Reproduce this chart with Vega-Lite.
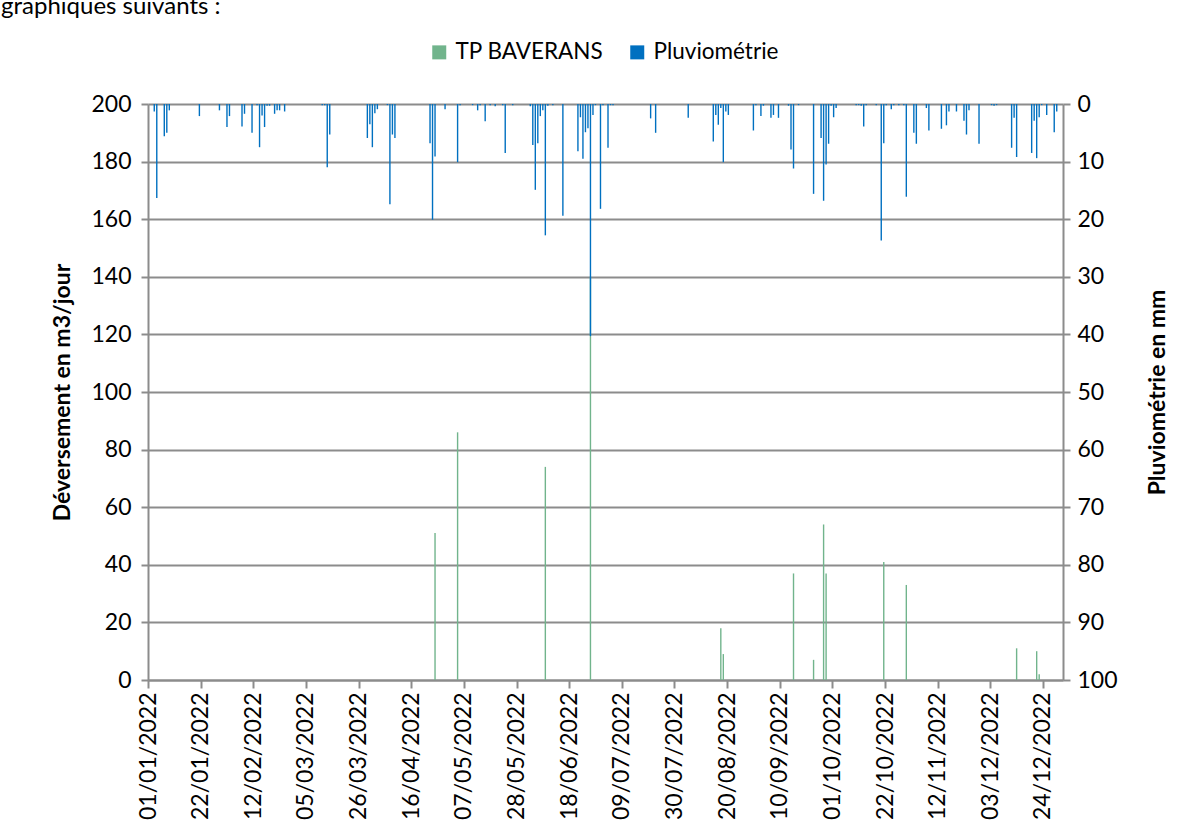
{
  "$schema": "https://vega.github.io/schema/vega-lite/v6.json",
  "width": 915,
  "height": 576,
  "autosize": {"type": "none"},
  "padding": {"left": 148, "top": 104, "right": 129, "bottom": 158},
  "background": "white",
  "title": {"text": "graphiques suivants :", "anchor": "start", "frame": "group", "dx": -147, "offset": 3, "baseline": "alphabetic", "fontSize": 24, "font": "Lato", "fontWeight": "normal", "color": "#000000"},
  "config": {
    "view": {"stroke": null},
    "font": "Lato",
    "axis": {"labelFont": "Lato", "labelFontSize": 23, "labelColor": "#000000", "titleFont": "Lato", "titleFontSize": 23, "titleFontWeight": "bold", "titleColor": "#000000", "domainColor": "#8C8C8C", "domainWidth": 2, "tickColor": "#8C8C8C", "tickWidth": 2, "tickSize": 7, "gridColor": "#8C8C8C", "gridWidth": 2}
  },
  "datasets": {
    "deversement": [
      {"date": "2022-04-25", "value": 51}, {"date": "2022-05-04", "value": 86}, {"date": "2022-06-08", "value": 74}, {"date": "2022-06-26", "value": 140},
      {"date": "2022-08-17", "value": 18}, {"date": "2022-08-18", "value": 9}, {"date": "2022-09-15", "value": 37}, {"date": "2022-09-23", "value": 7},
      {"date": "2022-09-27", "value": 54}, {"date": "2022-09-28", "value": 37}, {"date": "2022-10-21", "value": 41}, {"date": "2022-10-30", "value": 33},
      {"date": "2022-12-13", "value": 11}, {"date": "2022-12-21", "value": 10}, {"date": "2022-12-22", "value": 2}
    ],
    "pluvio": [
      {"date": "2022-01-03", "value": 1.3}, {"date": "2022-01-04", "value": 16.3}, {"date": "2022-01-07", "value": 5.6}, {"date": "2022-01-08", "value": 5.0},
      {"date": "2022-01-09", "value": 1.1}, {"date": "2022-01-21", "value": 2.1}, {"date": "2022-01-29", "value": 1.1}, {"date": "2022-02-01", "value": 4.0},
      {"date": "2022-02-02", "value": 2.1}, {"date": "2022-02-07", "value": 3.9}, {"date": "2022-02-08", "value": 1.7}, {"date": "2022-02-11", "value": 5.0},
      {"date": "2022-02-13", "value": 0.2}, {"date": "2022-02-14", "value": 7.5}, {"date": "2022-02-15", "value": 2.0}, {"date": "2022-02-16", "value": 4.0},
      {"date": "2022-02-17", "value": 0.3}, {"date": "2022-02-18", "value": 0.3}, {"date": "2022-02-20", "value": 1.7}, {"date": "2022-02-21", "value": 1.1},
      {"date": "2022-02-22", "value": 1.1}, {"date": "2022-02-24", "value": 1.3}, {"date": "2022-03-11", "value": 0.2}, {"date": "2022-03-12", "value": 0.2},
      {"date": "2022-03-13", "value": 11.0}, {"date": "2022-03-14", "value": 5.3}, {"date": "2022-03-29", "value": 5.9}, {"date": "2022-03-30", "value": 3.5},
      {"date": "2022-03-31", "value": 7.5}, {"date": "2022-04-01", "value": 1.6}, {"date": "2022-04-02", "value": 0.9}, {"date": "2022-04-06", "value": 0.2},
      {"date": "2022-04-07", "value": 17.4}, {"date": "2022-04-08", "value": 5.3}, {"date": "2022-04-09", "value": 5.9}, {"date": "2022-04-23", "value": 6.8},
      {"date": "2022-04-24", "value": 20.1}, {"date": "2022-04-25", "value": 9.1}, {"date": "2022-04-29", "value": 0.9}, {"date": "2022-05-04", "value": 10.1},
      {"date": "2022-05-05", "value": 0.2}, {"date": "2022-05-10", "value": 0.2}, {"date": "2022-05-12", "value": 1.1}, {"date": "2022-05-13", "value": 0.2},
      {"date": "2022-05-15", "value": 3.0}, {"date": "2022-05-17", "value": 0.2}, {"date": "2022-05-19", "value": 0.4}, {"date": "2022-05-22", "value": 0.2},
      {"date": "2022-05-23", "value": 8.5}, {"date": "2022-05-26", "value": 0.2}, {"date": "2022-06-02", "value": 0.4}, {"date": "2022-06-03", "value": 7.1},
      {"date": "2022-06-04", "value": 14.9}, {"date": "2022-06-05", "value": 6.8}, {"date": "2022-06-06", "value": 2.1}, {"date": "2022-06-07", "value": 1.1},
      {"date": "2022-06-08", "value": 22.8}, {"date": "2022-06-09", "value": 0.3}, {"date": "2022-06-11", "value": 0.2}, {"date": "2022-06-15", "value": 19.4},
      {"date": "2022-06-21", "value": 8.2}, {"date": "2022-06-22", "value": 2.3}, {"date": "2022-06-23", "value": 9.5}, {"date": "2022-06-24", "value": 4.9},
      {"date": "2022-06-25", "value": 4.2}, {"date": "2022-06-26", "value": 40.3}, {"date": "2022-06-27", "value": 1.9}, {"date": "2022-06-28", "value": 0.2},
      {"date": "2022-06-30", "value": 18.2}, {"date": "2022-07-01", "value": 0.2}, {"date": "2022-07-03", "value": 7.6}, {"date": "2022-07-04", "value": 0.2},
      {"date": "2022-07-05", "value": 0.2}, {"date": "2022-07-20", "value": 2.5}, {"date": "2022-07-22", "value": 5.0}, {"date": "2022-08-04", "value": 2.4},
      {"date": "2022-08-14", "value": 6.5}, {"date": "2022-08-15", "value": 1.9}, {"date": "2022-08-16", "value": 3.6}, {"date": "2022-08-17", "value": 0.7},
      {"date": "2022-08-18", "value": 10.1}, {"date": "2022-08-19", "value": 1.3}, {"date": "2022-08-20", "value": 1.9}, {"date": "2022-08-30", "value": 4.6},
      {"date": "2022-08-31", "value": 0.2}, {"date": "2022-09-02", "value": 2.1}, {"date": "2022-09-03", "value": 0.3}, {"date": "2022-09-06", "value": 2.4},
      {"date": "2022-09-07", "value": 1.9}, {"date": "2022-09-09", "value": 2.4}, {"date": "2022-09-13", "value": 0.3}, {"date": "2022-09-14", "value": 7.9},
      {"date": "2022-09-15", "value": 11.2}, {"date": "2022-09-17", "value": 0.2}, {"date": "2022-09-23", "value": 15.6}, {"date": "2022-09-26", "value": 5.9},
      {"date": "2022-09-27", "value": 16.8}, {"date": "2022-09-28", "value": 10.5}, {"date": "2022-09-29", "value": 6.9}, {"date": "2022-09-30", "value": 0.3},
      {"date": "2022-10-01", "value": 2.3}, {"date": "2022-10-02", "value": 0.7}, {"date": "2022-10-10", "value": 0.2}, {"date": "2022-10-11", "value": 0.2},
      {"date": "2022-10-12", "value": 0.3}, {"date": "2022-10-13", "value": 3.9}, {"date": "2022-10-14", "value": 0.2}, {"date": "2022-10-18", "value": 0.2},
      {"date": "2022-10-20", "value": 23.7}, {"date": "2022-10-21", "value": 6.8}, {"date": "2022-10-22", "value": 0.2}, {"date": "2022-10-24", "value": 0.9},
      {"date": "2022-10-25", "value": 0.2}, {"date": "2022-10-27", "value": 0.2}, {"date": "2022-10-29", "value": 0.2}, {"date": "2022-10-30", "value": 16.1},
      {"date": "2022-11-02", "value": 5.0}, {"date": "2022-11-03", "value": 6.9}, {"date": "2022-11-07", "value": 0.7}, {"date": "2022-11-08", "value": 4.6},
      {"date": "2022-11-13", "value": 4.3}, {"date": "2022-11-15", "value": 3.7}, {"date": "2022-11-16", "value": 1.3}, {"date": "2022-11-19", "value": 1.3},
      {"date": "2022-11-22", "value": 2.9}, {"date": "2022-11-23", "value": 5.3}, {"date": "2022-11-24", "value": 1.1}, {"date": "2022-11-28", "value": 6.9},
      {"date": "2022-12-03", "value": 0.2}, {"date": "2022-12-04", "value": 0.3}, {"date": "2022-12-05", "value": 0.2}, {"date": "2022-12-11", "value": 7.6},
      {"date": "2022-12-12", "value": 2.4}, {"date": "2022-12-13", "value": 9.2}, {"date": "2022-12-19", "value": 8.5}, {"date": "2022-12-20", "value": 2.9},
      {"date": "2022-12-21", "value": 9.4}, {"date": "2022-12-22", "value": 2.3}, {"date": "2022-12-23", "value": 0.2}, {"date": "2022-12-25", "value": 1.9},
      {"date": "2022-12-28", "value": 4.9}, {"date": "2022-12-29", "value": 1.3}
    ]
  },
  "layer": [
    {
      "data": {"name": "deversement"},
      "mark": {"type": "bar", "width": 1.4},
      "encoding": {
        "x": {
          "field": "date", "type": "temporal", "timeUnit": "utcyearmonthdate", "bandPosition": 0.5,
          "scale": {"type": "utc", "domain": ["2022-01-01", "2023-01-01"], "nice": false},
          "axis": {
            "title": null, "grid": false, "labelExpr": "utcFormat(datum.value, '%d/%m/%Y')", "labelAngle": -90, "labelPadding": 4, "tickSize": 8,
            "values": ["2022-01-01", "2022-01-22", "2022-02-12", "2022-03-05", "2022-03-26", "2022-04-16", "2022-05-07", "2022-05-28", "2022-06-18", "2022-07-09", "2022-07-30", "2022-08-20", "2022-09-10", "2022-10-01", "2022-10-22", "2022-11-12", "2022-12-03", "2022-12-24"]
          }
        },
        "y": {
          "field": "value", "type": "quantitative",
          "scale": {"domain": [0, 200], "nice": false},
          "axis": {"title": "Déversement en m3/jour", "values": [0, 20, 40, 60, 80, 100, 120, 140, 160, 180, 200], "grid": true, "labelPadding": 10, "titlePadding": 16}
        },
        "color": {
          "datum": "TP BAVERANS",
          "scale": {"domain": ["TP BAVERANS", "Pluviométrie"], "range": ["#71B48C", "#0070C0"]},
          "legend": {"title": null, "orient": "none", "legendX": 280, "legendY": -63, "direction": "horizontal", "symbolType": "square", "symbolSize": 196, "symbolStrokeWidth": 0, "labelFont": "Lato", "labelFontSize": 22.5, "labelColor": "#000000", "labelOffset": 5, "columnPadding": 22}
        }
      }
    },
    {
      "data": {"name": "pluvio"},
      "mark": {"type": "bar", "width": 1.4},
      "encoding": {
        "x": {"field": "date", "type": "temporal", "timeUnit": "utcyearmonthdate", "bandPosition": 0.5},
        "y": {
          "field": "value", "type": "quantitative",
          "scale": {"domain": [0, 100], "nice": false, "reverse": true},
          "axis": {"title": "Pluviométrie en mm", "orient": "right", "values": [0, 10, 20, 30, 40, 50, 60, 70, 80, 90, 100], "grid": false, "labelPadding": 7, "titlePadding": 52, "titleAngle": 270}
        },
        "color": {"datum": "Pluviométrie"}
      }
    }
  ],
  "resolve": {"scale": {"y": "independent"}, "axis": {"y": "independent"}}
}
